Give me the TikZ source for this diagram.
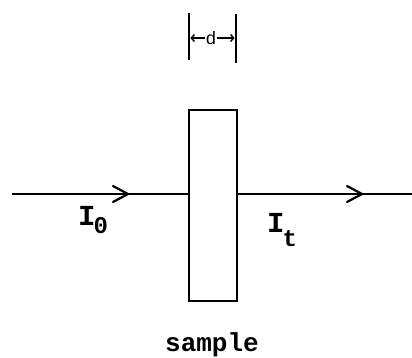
\documentclass[tikz,border=0pt]{standalone}
\usepackage{fontspec}
\setmonofont{Liberation Mono}
\usetikzlibrary{arrows.meta}
\begin{document}
\begin{tikzpicture}[x=1pt,y=-1pt,
  ln/.style={line width=2.4pt,black},
  chev/.style={line width=2.2pt,line cap=round,line join=round},
  lbl/.style={inner sep=0pt,font=\ttfamily\bfseries\fontsize{26}{26}\selectfont},
  dim/.style={line width=1.5pt,-{Straight Barb[length=3pt,width=7pt]}}]
\useasboundingbox (0,0) rectangle (412,358);
% sample
\node[draw,line width=2.4pt,minimum width=48pt,minimum height=191pt,inner sep=0pt,anchor=north west] (s) at (188,109) {};
% beam
\coordinate (a) at (12,194);
\coordinate (b) at (412,194);
\draw[ln,line width=2.2pt] (a) -- (s.west|-a);
\draw[ln,line width=2.2pt] (s.east|-a) -- (b);
\coordinate (c1) at (128,194);
\coordinate (c2) at (362,194);
\draw[chev] ([shift={(-15,-8)}]c1) -- (c1) -- ([shift={(-15,8)}]c1);
\draw[chev] ([shift={(-15,-8)}]c2) -- (c2) -- ([shift={(-15,8)}]c2);
% dimension
\coordinate (t1a) at (189,13); \coordinate (t1b) at (189,60);
\coordinate (t2a) at (236,14); \coordinate (t2b) at (236,63);
\draw[ln,line width=2.8pt] (t1a) -- (t1b);
\draw[ln,line width=2.8pt] (t2a) -- (t2b);
\node[inner sep=0.5pt,font=\ttfamily\fontsize{18}{18}\selectfont] (d) at (211,38) {d};
\draw[dim] (d.west) -- ([xshift=1.4pt]t1a|-d);
\draw[dim] (d.east) -- ([xshift=-1.4pt]t2a|-d);
% labels
\node[lbl,anchor=base west,font=\ttfamily\bfseries\fontsize{29}{29}\selectfont] (i0) at (78,225) {I\kern-2pt\raisebox{-9pt}{\fontsize{24}{24}\selectfont 0}};
\node[lbl,anchor=base west,font=\ttfamily\bfseries\fontsize{29}{29}\selectfont] (it) at (267,232) {I\kern-2pt\raisebox{-14pt}{\fontsize{24}{24}\selectfont t}};
\node[lbl,anchor=base] (sl) at (212,351) {sample};
\end{tikzpicture}
\end{document}
